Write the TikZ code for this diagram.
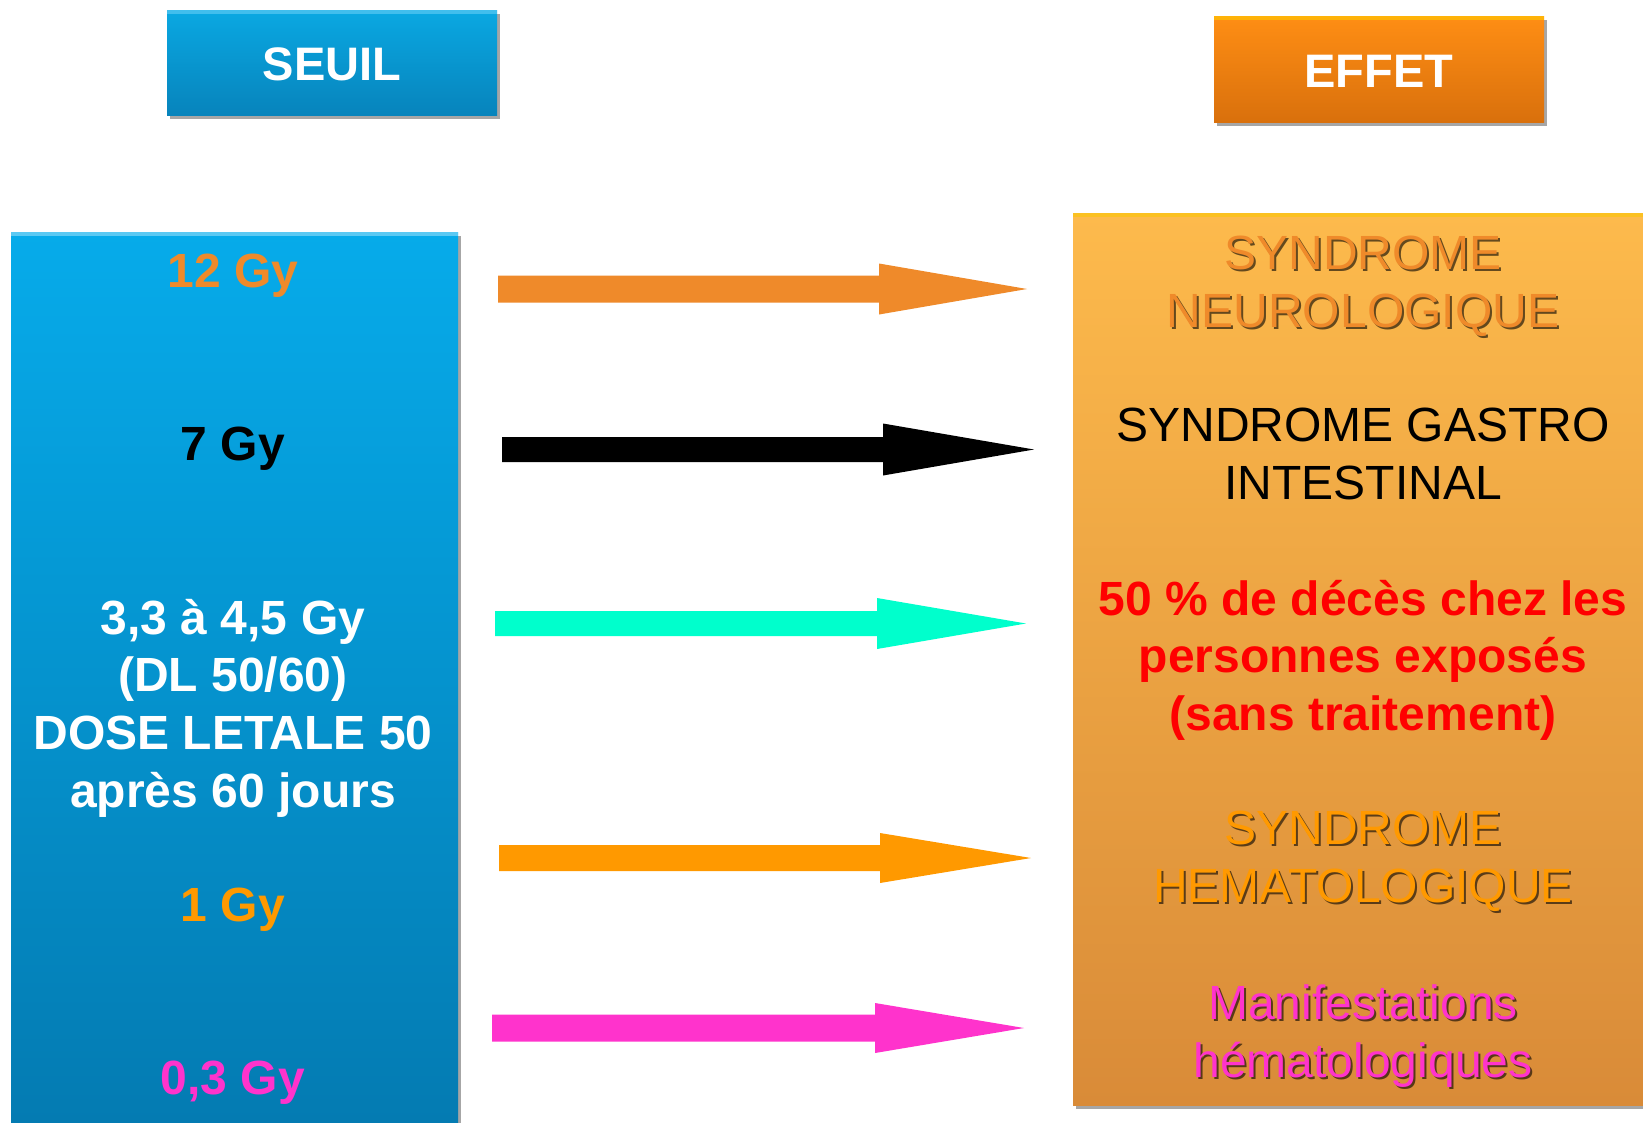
\documentclass[tikz,border=0pt]{standalone}
\usepackage{fontspec}
\setmainfont{Liberation Sans}
\usetikzlibrary{shadows}
\definecolor{blueTop}{HTML}{06ABEA}
\definecolor{blueBot}{HTML}{047BB2}
\definecolor{hdrBlueTop}{HTML}{0AA8E2}
\definecolor{hdrBlueBot}{HTML}{0784BC}
\definecolor{orTop}{HTML}{FDBA4C}
\definecolor{orBot}{HTML}{D98B38}
\definecolor{hdrOrTop}{HTML}{FF8E14}
\definecolor{hdrOrBot}{HTML}{D9700C}
\definecolor{cOrA}{HTML}{EF8A2A}
\definecolor{cCyan}{HTML}{00FFCC}
\definecolor{cOrB}{HTML}{FF9900}
\definecolor{cMag}{HTML}{FF33CC}
\definecolor{cRed}{HTML}{FF0000}
\tikzset{
  boxshadow/.style={drop shadow={shadow xshift=3pt,shadow yshift=-4pt,opacity=0.35,fill=black}},
  lbl/.style={font=\fontsize{48}{57.6}\selectfont\bfseries, align=center, inner sep=0pt},
  rlbl/.style={font=\fontsize{48}{57.6}\selectfont, align=center, inner sep=0pt},
  rlblb/.style={font=\fontsize{48}{57.6}\selectfont\bfseries, align=center, inner sep=0pt},
  hdr/.style={font=\fontsize{47}{56}\selectfont\bfseries, text=white, inner sep=0pt},
  txtshadow/.style={rlbl, text=black, opacity=0.6},
}
\newcommand{\fatarrow}[7]{% x0, xhead, xtip, yc, shaft half, head half, color
  \fill[#7] (#1,#4-#5) -- (#2,#4-#5) -- (#2,#4-#6) -- (#3,#4) -- (#2,#4+#6) -- (#2,#4+#5) -- (#1,#4+#5) -- cycle;}
\begin{document}
\begin{tikzpicture}[x=1pt,y=-1pt]
\useasboundingbox (0,0) rectangle (1643,1122);
\fill[white] (0,0) rectangle (1643,1122);
% header boxes
\path[boxshadow, top color=hdrBlueTop, bottom color=hdrBlueBot] (167,10) rectangle (497,115);
\fill[cyan!60!white, opacity=0.6] (167,10) rectangle (497,14);
\node[hdr] (seuil) at (332,64) {SEUIL};
\path[boxshadow, top color=hdrOrTop, bottom color=hdrOrBot] (1214,16) rectangle (1544,122);
\fill[orange!40!yellow, opacity=0.6] (1214,16) rectangle (1544,20);
\node[hdr] (effet) at (1379,71) {EFFET};
% big boxes
\path[boxshadow, top color=blueTop, bottom color=blueBot] (11,232) rectangle (458,1122);
\fill[cyan!50!white, opacity=0.7] (11,232) rectangle (458,236);
\path[boxshadow, top color=orTop, bottom color=orBot] (1073,213) rectangle (1660,1105);
\fill[yellow!60!orange, opacity=0.6] (1073,213) rectangle (1660,217);
% left labels
\node[lbl, text=cOrA] (g12) at (233,276) {12 Gy};
\node[lbl, text=black] (g7) at (233,449) {7 Gy};
\node[lbl, text=white] (gdl) at (233,708) {3,3 à 4,5 Gy\\(DL 50/60)\\DOSE LETALE 50\\après 60 jours};
\node[lbl, text=cOrB] (g1) at (233,910) {1 Gy};
\node[lbl, text=cMag] (g03) at (233,1083) {0,3 Gy};
% right labels (with shadow)
\node[txtshadow] at (1365,288) {SYNDROME\\NEUROLOGIQUE};
\node[rlbl, text=cOrA] (neuro) at (1363,286) {SYNDROME\\NEUROLOGIQUE};
\node[rlbl, text=black] (gastro) at (1363,454) {SYNDROME GASTRO\\INTESTINAL};
\node[rlblb, text=cRed] (dl) at (1363,660) {50 \% de décès chez les\\personnes exposés\\(sans traitement)};
\node[txtshadow] at (1365,863) {SYNDROME\\HEMATOLOGIQUE};
\node[rlbl, text=cOrB] (hemato) at (1363,861) {SYNDROME\\HEMATOLOGIQUE};
\node[txtshadow] at (1365,1038) {Manifestations\\hématologiques};
\node[rlbl, text=cMag] (manif) at (1363,1036) {Manifestations\\hématologiques};
% arrows
\fatarrow{498}{879}{1027}{289}{13.5}{25.5}{cOrA}
\fatarrow{502}{883}{1034}{449.5}{12.5}{26}{black}
\fatarrow{495}{877}{1026}{623.5}{12.5}{25.5}{cCyan}
\fatarrow{499}{880}{1031}{858}{13}{25}{cOrB}
\fatarrow{492}{875}{1024}{1028}{13.5}{25}{cMag}
\end{tikzpicture}
\end{document}
